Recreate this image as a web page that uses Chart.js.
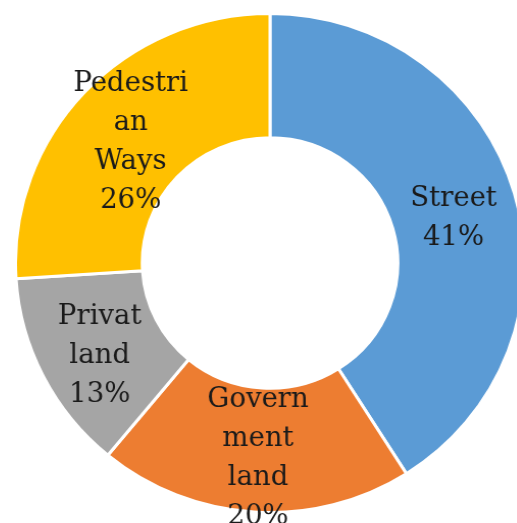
<!DOCTYPE html>
<html>
<head>
<meta charset="utf-8">
<script src="https://cdn.jsdelivr.net/npm/chart.js@4"></script>
<style>
  html, body { margin: 0; padding: 0; overflow: hidden; background: #fff; width: 517px; height: 523px; }
  #wrap { position: absolute; left: 19px; top: 12px; width: 502px; height: 514px; transform: scaleX(1.02); transform-origin: 50% 50%; }
</style>
</head>
<body>
<div id="wrap"><canvas id="chart"></canvas></div>
<script>
// dados do gráfico
const categories = ['Street', 'Government land', 'Privat land', 'Pedestrian Ways'];
const shares = [41, 20, 13, 26];
const labelLines = [
    ['Street', '41%'],
    ['Govern', 'ment', 'land', '20%'],
    ['Privat', 'land', '13%'],
    ['Pedestri', 'an', 'Ways', '26%']
];
const colors = ['#5B9BD5', '#ED7D31', '#A5A5A5', '#FFC000'];

// rótulos dentro das fatias
const sliceLabels = {
    id: 'sliceLabels',
    afterDatasetsDraw(chart) {
        const ctx = chart.ctx;
        const meta = chart.getDatasetMeta(0);
        ctx.save();
        ctx.font = '27px "DejaVu Serif"';
        ctx.fillStyle = '#1a1a1a';
        ctx.textAlign = 'center';
        ctx.textBaseline = 'middle';
        const lineH = 39;
        meta.data.forEach((arc, i) => {
            const p = arc.tooltipPosition();
            const lines = labelLines[i];
            const y0 = p.y + 8 - (lines.length - 1) * lineH / 2;
            lines.forEach((t, j) => ctx.fillText(t, p.x, y0 + j * lineH));
        });
        ctx.restore();
    }
};

new Chart(document.getElementById('chart').getContext('2d'), {
    type: 'doughnut',
    data: {
        labels: categories,
        datasets: [{
            data: shares,
            backgroundColor: colors,
            borderColor: '#ffffff',
            borderWidth: 3
        }]
    },
    options: {
        responsive: true,
        maintainAspectRatio: false,
        animation: false,
        cutout: '50.2%',
        layout: { padding: { bottom: 12 } },
        plugins: {
            legend: { display: false },
            tooltip: { enabled: false }
        }
    },
    plugins: [sliceLabels]
});
</script>
</body>
</html>
